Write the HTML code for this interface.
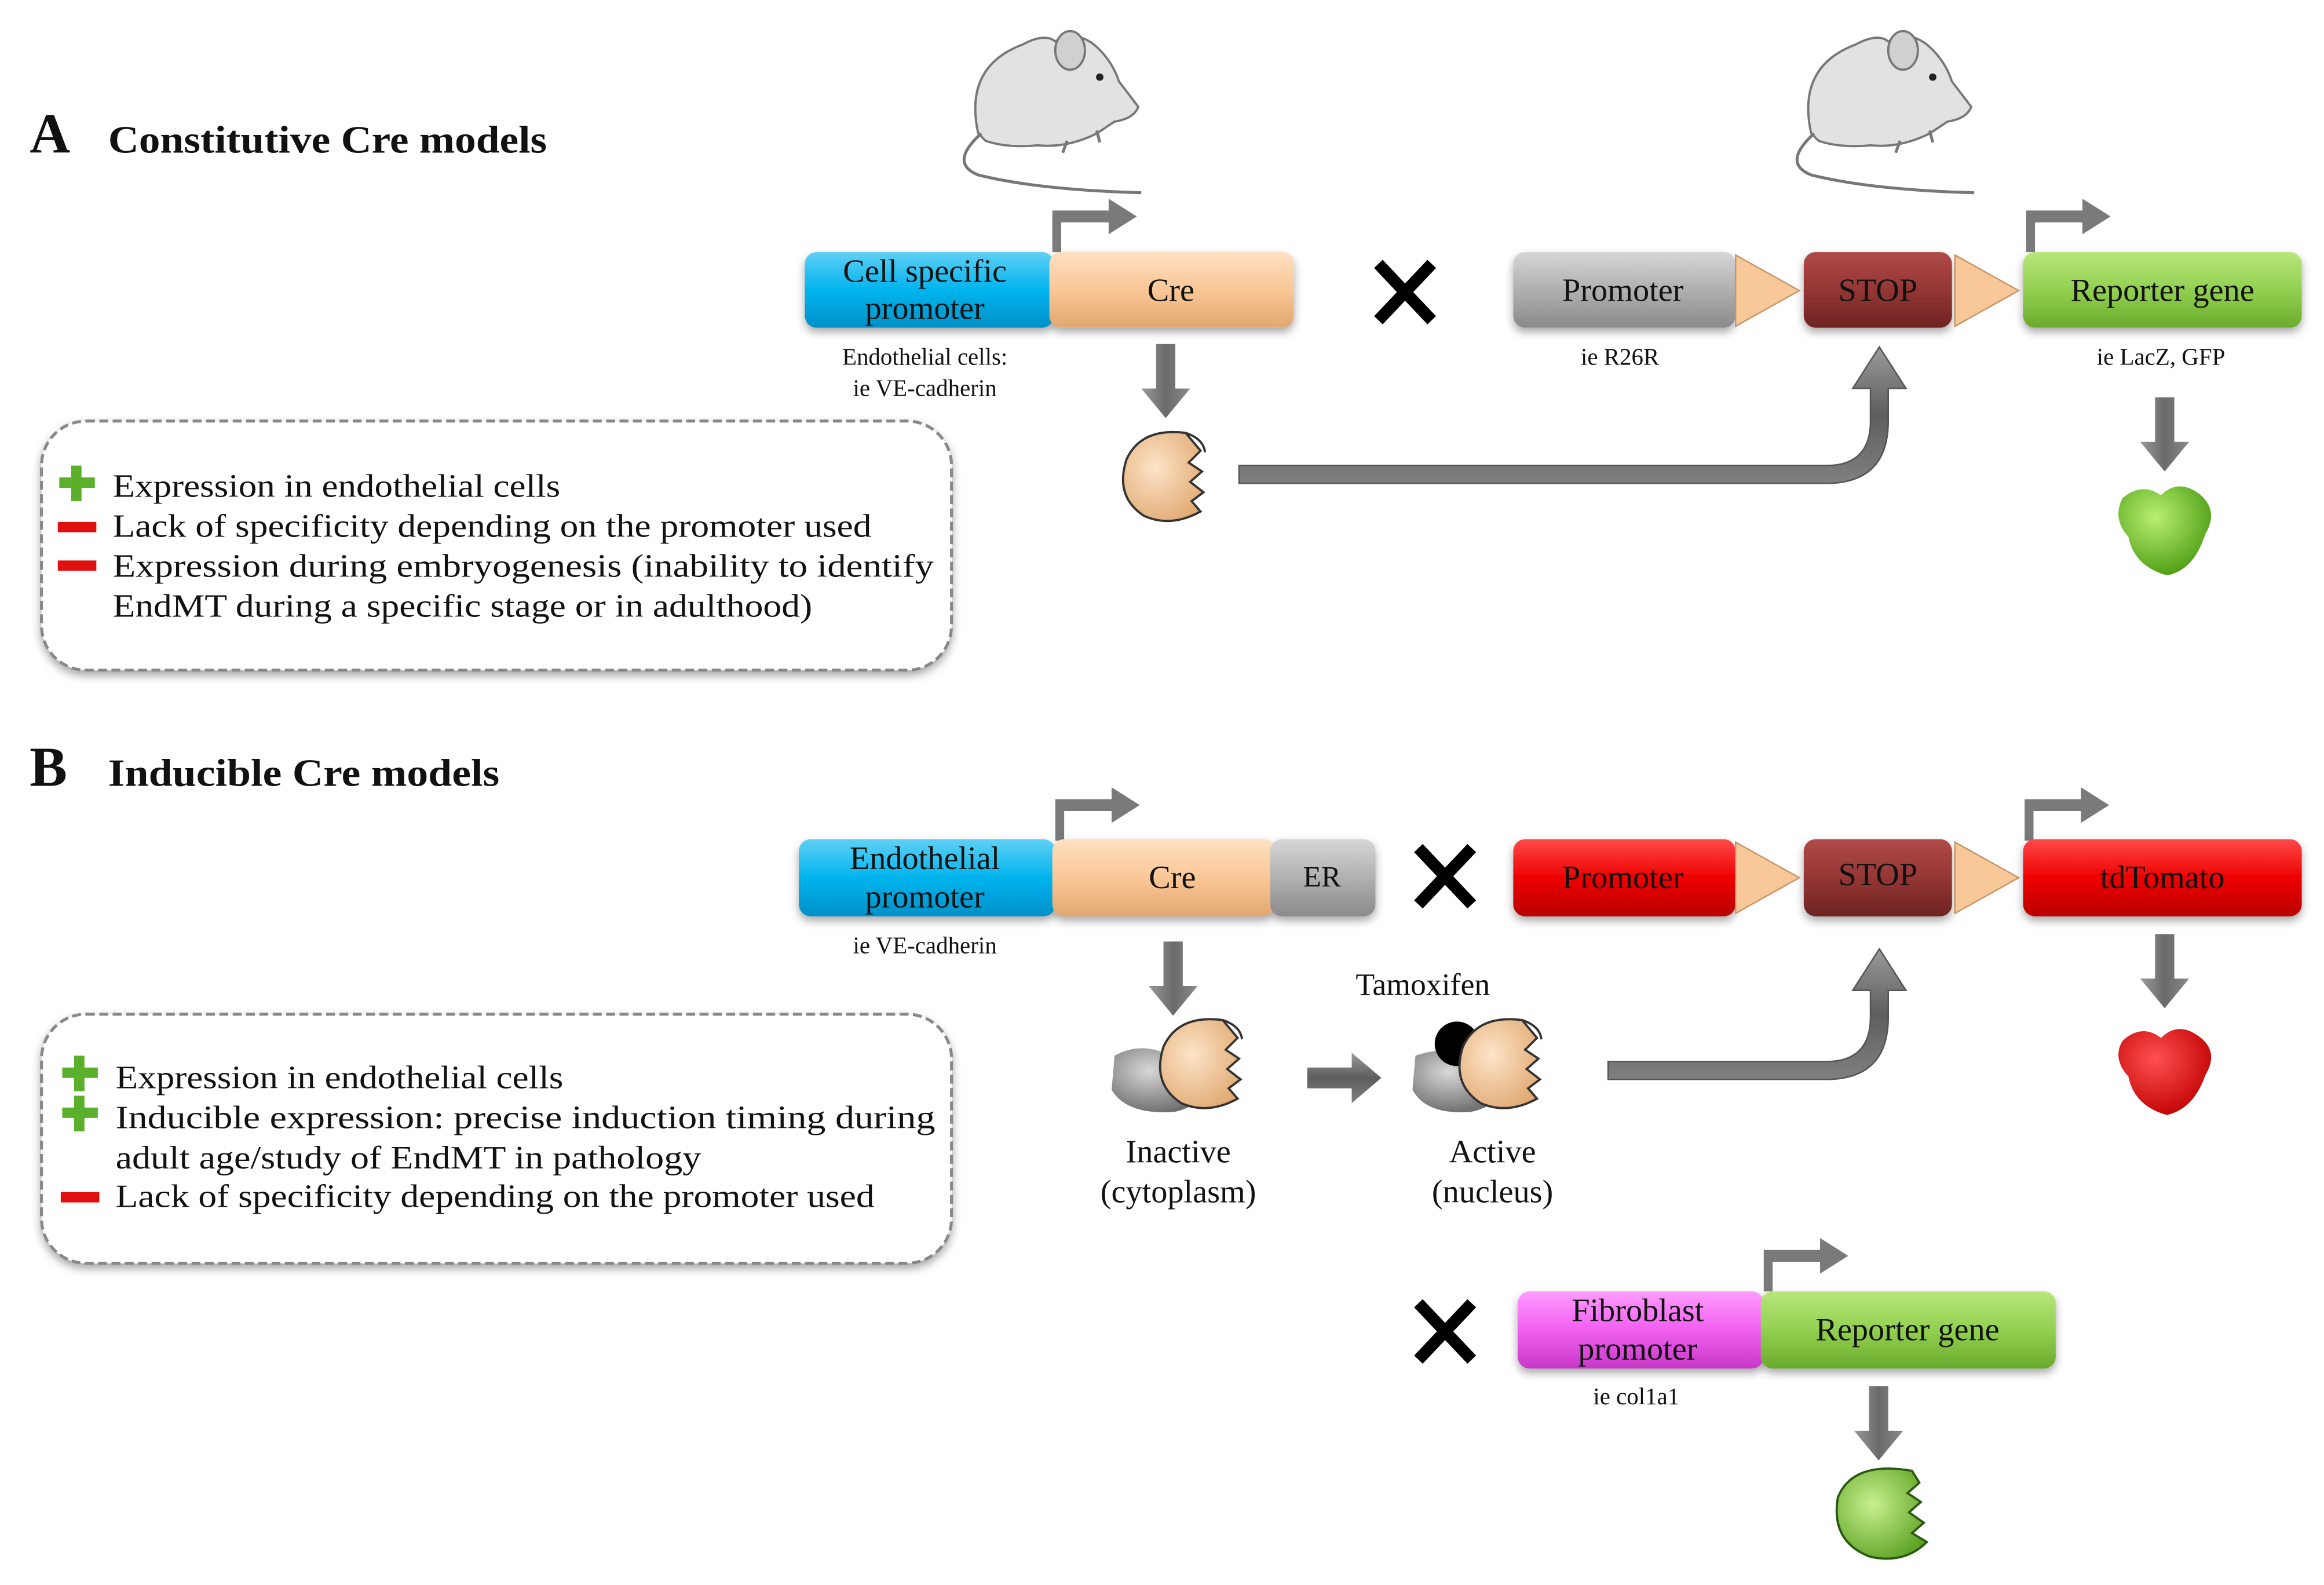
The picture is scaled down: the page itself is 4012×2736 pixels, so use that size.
<!DOCTYPE html>
<html><head><meta charset="utf-8"><style>
html,body{margin:0;padding:0;background:#fff;}
svg{display:block;}
text{font-family:"Liberation Serif",serif;fill:#111;}
</style></head><body>
<svg width="4012" height="2736" viewBox="0 0 1568 1069" preserveAspectRatio="none" xmlns="http://www.w3.org/2000/svg">
<defs>
<linearGradient id="gBlue" x1="0" y1="0" x2="0" y2="1"><stop offset="0" stop-color="#5fd0f5"/><stop offset="0.5" stop-color="#00b4ee"/><stop offset="1" stop-color="#0090c8"/></linearGradient>
<linearGradient id="gTan" x1="0" y1="0" x2="0" y2="1"><stop offset="0" stop-color="#fde0c2"/><stop offset="0.5" stop-color="#fac796"/><stop offset="1" stop-color="#e0a770"/></linearGradient>
<linearGradient id="gGray" x1="0" y1="0" x2="0" y2="1"><stop offset="0" stop-color="#d6d6d6"/><stop offset="0.5" stop-color="#b0b0b0"/><stop offset="1" stop-color="#8a8a8a"/></linearGradient>
<linearGradient id="gStop" x1="0" y1="0" x2="0" y2="1"><stop offset="0" stop-color="#b04a48"/><stop offset="0.5" stop-color="#943634"/><stop offset="1" stop-color="#6e2422"/></linearGradient>
<linearGradient id="gGreen" x1="0" y1="0" x2="0" y2="1"><stop offset="0" stop-color="#b8e67a"/><stop offset="0.5" stop-color="#92d050"/><stop offset="1" stop-color="#6aaa2c"/></linearGradient>
<linearGradient id="gRed" x1="0" y1="0" x2="0" y2="1"><stop offset="0" stop-color="#ff4a4a"/><stop offset="0.5" stop-color="#ee0000"/><stop offset="1" stop-color="#b80000"/></linearGradient>
<linearGradient id="gMag" x1="0" y1="0" x2="0" y2="1"><stop offset="0" stop-color="#ff9cff"/><stop offset="0.5" stop-color="#f060f0"/><stop offset="1" stop-color="#c838c8"/></linearGradient>
<linearGradient id="gArr" x1="0" y1="0" x2="1" y2="0"><stop offset="0" stop-color="#9a9a9a"/><stop offset="0.5" stop-color="#6a6a6a"/><stop offset="1" stop-color="#8a8a8a"/></linearGradient>
<linearGradient id="gArrH" x1="0" y1="0" x2="0" y2="1"><stop offset="0" stop-color="#9a9a9a"/><stop offset="0.5" stop-color="#5e5e5e"/><stop offset="1" stop-color="#808080"/></linearGradient>
<radialGradient id="gEnz" cx="0.4" cy="0.4" r="0.7"><stop offset="0" stop-color="#fde4c8"/><stop offset="1" stop-color="#e0a870"/></radialGradient>
<radialGradient id="gEnzG" cx="0.4" cy="0.4" r="0.7"><stop offset="0" stop-color="#c8f090"/><stop offset="1" stop-color="#5aa020"/></radialGradient>
<radialGradient id="gBall" cx="0.4" cy="0.35" r="0.7"><stop offset="0" stop-color="#d8d8d8"/><stop offset="1" stop-color="#6a6a6a"/></radialGradient>
<radialGradient id="gProtG" cx="0.4" cy="0.35" r="0.7"><stop offset="0" stop-color="#b8f070"/><stop offset="1" stop-color="#4a9a10"/></radialGradient>
<radialGradient id="gProtR" cx="0.4" cy="0.35" r="0.7"><stop offset="0" stop-color="#ff5050"/><stop offset="1" stop-color="#c00000"/></radialGradient>
<filter id="sh" x="-10%" y="-10%" width="120%" height="130%"><feDropShadow dx="0" dy="3" stdDeviation="3" flood-color="#000" flood-opacity="0.35"/></filter>
</defs>

<!-- Titles -->
<text x="20" y="103" font-size="38" font-weight="bold">A</text>
<text x="73" y="103" font-size="26" font-weight="bold" textLength="296" lengthAdjust="spacingAndGlyphs">Constitutive  Cre models</text>
<text x="20" y="530" font-size="38" font-weight="bold">B</text>
<text x="73" y="530" font-size="26" font-weight="bold" textLength="264" lengthAdjust="spacingAndGlyphs">Inducible  Cre models</text>

<!-- Mice -->
<g id="mouse">
<path d="M660 90 Q650 45 690 30 Q705 22 712 28 Q725 20 738 30 Q750 40 755 55 L768 72 Q765 80 752 82 L740 90 Q720 100 700 98 Q680 100 665 95 Z" fill="#e2e2e2" stroke="#777" stroke-width="1.5"/>
<ellipse cx="722" cy="34" rx="10" ry="13" fill="#d0d0d0" stroke="#777" stroke-width="1.5"/>
<circle cx="742" cy="52" r="2.5" fill="#222"/>
<path d="M662 90 Q640 110 660 118 Q700 128 770 130" fill="none" stroke="#777" stroke-width="2"/>
<path d="M720 95 l-3 8 M740 88 l2 8" stroke="#777" stroke-width="2"/>
</g>
<use href="#mouse" x="562" y="0"/>

<!-- Row A -->
<g filter="url(#sh)">
<rect x="543" y="170" width="168" height="51" rx="8" fill="url(#gBlue)"/>
<rect x="708" y="170" width="165" height="51" rx="8" fill="url(#gTan)"/>
<rect x="1021" y="170" width="150" height="51" rx="8" fill="url(#gGray)"/>
<rect x="1217" y="170" width="100" height="51" rx="8" fill="url(#gStop)"/>
<rect x="1365" y="170" width="188" height="51" rx="8" fill="url(#gGreen)"/>
</g>
<polygon points="1171,172 1214,196 1171,220" fill="#f8c898" stroke="#c9966a"/>
<polygon points="1319,172 1362,196 1319,220" fill="#f8c898" stroke="#c9966a"/>
<text x="624" y="190" font-size="22" text-anchor="middle">Cell specific</text>
<text x="624" y="215" font-size="22" text-anchor="middle">promoter</text>
<text x="790" y="203" font-size="22" text-anchor="middle">Cre</text>
<text x="1095" y="203" font-size="22" text-anchor="middle">Promoter</text>
<text x="1267" y="203" font-size="22" text-anchor="middle">STOP</text>
<text x="1459" y="203" font-size="22" text-anchor="middle">Reporter gene</text>
<text x="624" y="246" font-size="16" text-anchor="middle">Endothelial cells:</text>
<text x="624" y="267" font-size="16" text-anchor="middle">ie VE-cadherin</text>
<text x="1093" y="246" font-size="16" text-anchor="middle">ie R26R</text>
<text x="1458" y="246" font-size="16" text-anchor="middle">ie LacZ, GFP</text>

<!-- bent arrows -->
<g fill="#7a7a7a">
<path d="M710 170 V142 H748 V134 L767 146 L748 158 V150 H716 V170 Z"/>
<path d="M1367 170 V142 H1405 V134 L1424 146 L1405 158 V150 H1373 V170 Z"/>
<path d="M712 567 V539 H750 V531 L769 543 L750 555 V547 H718 V567 Z"/>
<path d="M1366 567 V539 H1404 V531 L1423 543 L1404 555 V547 H1372 V567 Z"/>
<path d="M1190 871 V843 H1228 V835 L1247 847 L1228 859 V851 H1196 V871 Z"/>
</g>

<!-- X marks -->
<g stroke="#000" stroke-width="8">
<path d="M930 178 L966 216 M966 178 L930 216" />
<path d="M957 572 L993 610 M993 572 L957 610"/>
<path d="M957 879 L993 917 M993 879 L957 917"/>
</g>

<!-- down arrows -->
<g id="darr" fill="url(#gArr)"><path d="M780 232 H793 V262 H803 L786.5 282 L770 262 H780 Z"/></g>
<use href="#darr" x="674" y="36"/>
<use href="#darr" x="5" y="403"/>
<use href="#darr" x="674" y="398"/>
<use href="#darr" x="481" y="703"/>

<!-- Cre enzyme A -->
<g id="enz">
<path d="M800 292 Q770 288 760 310 Q752 335 772 348 Q790 356 810 345 L804 338 L812 332 L803 325 L811 318 L802 312 L810 304 Z" fill="url(#gEnz)" stroke="#333" stroke-width="1.5"/>
<path d="M800 292 Q812 296 813 305" fill="none" stroke="#333" stroke-width="1.5"/>
</g>

<!-- long arrow A -->
<path d="M836 314 H1232 Q1262 314 1262 284 V262 H1250 L1268 234 L1286 262 H1274 V284 Q1274 326 1232 326 H836 Z" fill="url(#gArrH)" stroke="#555" stroke-width="1"/>

<!-- green protein A -->
<path d="M1432 336 Q1445 325 1458 334 Q1470 322 1485 334 Q1497 345 1488 360 Q1480 385 1462 388 Q1440 382 1436 362 Q1425 350 1432 336 Z" fill="url(#gProtG)"/>

<!-- Box A -->
<rect x="28" y="284" width="614" height="168" rx="30" fill="#fff" stroke="#888" stroke-width="2" stroke-dasharray="6,3" filter="url(#sh)"/>
<g font-size="22">
<text x="76" y="335" textLength="302" lengthAdjust="spacingAndGlyphs">Expression in endothelial cells</text>
<text x="76" y="362" textLength="512" lengthAdjust="spacingAndGlyphs">Lack of specificity depending on the promoter used</text>
<text x="76" y="389" textLength="554" lengthAdjust="spacingAndGlyphs">Expression during embryogenesis (inability to identify</text>
<text x="76" y="416" textLength="472" lengthAdjust="spacingAndGlyphs">EndMT during a specific stage or in adulthood)</text>
</g>
<g id="plus"><rect x="48" y="314" width="7" height="24" fill="#5ab02a"/><rect x="40" y="322" width="24" height="7" fill="#5ab02a"/></g>
<rect x="39" y="352" width="26" height="7" fill="#e01010"/>
<rect x="39" y="378" width="26" height="7" fill="#e01010"/>

<!-- Row B -->
<g filter="url(#sh)">
<rect x="539" y="566" width="173" height="52" rx="8" fill="url(#gBlue)"/>
<rect x="710" y="566" width="150" height="52" rx="8" fill="url(#gTan)"/>
<rect x="857" y="566" width="71" height="52" rx="8" fill="url(#gGray)"/>
<rect x="1021" y="566" width="150" height="52" rx="8" fill="url(#gRed)"/>
<rect x="1217" y="566" width="100" height="52" rx="8" fill="url(#gStop)"/>
<rect x="1365" y="566" width="188" height="52" rx="8" fill="url(#gRed)"/>
</g>
<polygon points="1171,568 1214,592 1171,616" fill="#f8c898" stroke="#c9966a"/>
<polygon points="1319,568 1362,592 1319,616" fill="#f8c898" stroke="#c9966a"/>
<text x="624" y="586" font-size="22" text-anchor="middle">Endothelial</text>
<text x="624" y="612" font-size="22" text-anchor="middle">promoter</text>
<text x="791" y="599" font-size="22" text-anchor="middle">Cre</text>
<text x="892" y="598" font-size="20" text-anchor="middle">ER</text>
<text x="1095" y="599" font-size="22" text-anchor="middle">Promoter</text>
<text x="1267" y="597" font-size="22" text-anchor="middle">STOP</text>
<text x="1459" y="599" font-size="22" text-anchor="middle">tdTomato</text>
<text x="624" y="643" font-size="16" text-anchor="middle">ie VE-cadherin</text>

<text x="960" y="671" font-size="21" text-anchor="middle">Tamoxifen</text>
<!-- inactive -->
<path d="M752 712 Q770 702 790 712 Q808 708 814 722 Q816 745 792 750 Q760 752 750 735 Z" fill="url(#gBall)"/>
<use href="#enz" x="25" y="396"/>
<!-- small arrow -->
<path d="M882 720 H912 V710 L932 727 L912 744 V734 H882 Z" fill="url(#gArrH)"/>
<!-- active -->
<path d="M955 712 Q975 705 990 712 Q1008 710 1014 725 Q1016 745 992 750 Q962 752 953 735 Z" fill="url(#gBall)"/>
<ellipse cx="983" cy="704" rx="15" ry="15" fill="#000"/>
<use href="#enz" x="227" y="396"/>
<text x="795" y="784" font-size="22" text-anchor="middle">Inactive</text>
<text x="795" y="811" font-size="22" text-anchor="middle">(cytoplasm)</text>
<text x="1007" y="784" font-size="22" text-anchor="middle">Active</text>
<text x="1007" y="811" font-size="22" text-anchor="middle">(nucleus)</text>

<!-- long arrow B -->
<path d="M1085 716 H1232 Q1262 716 1262 686 V668 H1250 L1268 640 L1286 668 H1274 V686 Q1274 728 1232 728 H1085 Z" fill="url(#gArrH)" stroke="#555" stroke-width="1"/>

<!-- red protein -->
<path d="M1432 702 Q1445 690 1458 700 Q1470 688 1485 700 Q1497 710 1488 725 Q1480 748 1462 752 Q1440 746 1436 726 Q1425 714 1432 702 Z" fill="url(#gProtR)"/>

<!-- Box B -->
<rect x="28" y="684" width="614" height="168" rx="30" fill="#fff" stroke="#888" stroke-width="2" stroke-dasharray="6,3" filter="url(#sh)"/>
<g font-size="22">
<text x="78" y="734" textLength="302" lengthAdjust="spacingAndGlyphs">Expression in endothelial cells</text>
<text x="78" y="761" textLength="553" lengthAdjust="spacingAndGlyphs">Inducible expression: precise induction timing during</text>
<text x="78" y="788" textLength="395" lengthAdjust="spacingAndGlyphs">adult age/study of EndMT in pathology</text>
<text x="78" y="814" textLength="512" lengthAdjust="spacingAndGlyphs">Lack of specificity depending on the promoter used</text>
</g>
<use href="#plus" x="2" y="398"/>
<use href="#plus" x="2" y="425"/>
<rect x="41" y="804" width="26" height="7" fill="#e01010"/>

<!-- Bottom -->
<g filter="url(#sh)">
<rect x="1024" y="871" width="166" height="52" rx="8" fill="url(#gMag)"/>
<rect x="1188" y="871" width="199" height="52" rx="8" fill="url(#gGreen)"/>
</g>
<text x="1105" y="891" font-size="22" text-anchor="middle">Fibroblast</text>
<text x="1105" y="917" font-size="22" text-anchor="middle">promoter</text>
<text x="1287" y="904" font-size="22" text-anchor="middle">Reporter gene</text>
<text x="1104" y="947" font-size="16" text-anchor="middle">ie col1a1</text>
<path d="M1290 992 Q1250 985 1240 1010 Q1235 1040 1262 1050 Q1285 1055 1300 1040 L1290 1034 L1298 1027 L1288 1020 L1296 1013 L1287 1007 L1295 1000 Z" fill="url(#gEnzG)" stroke="#2a5a10" stroke-width="1.5"/>
</svg>
</body></html>
